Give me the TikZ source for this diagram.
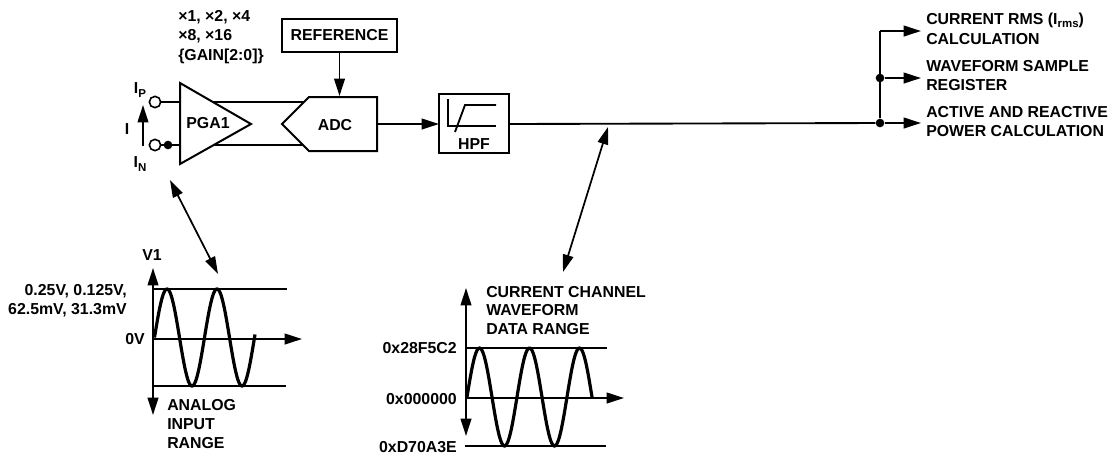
\documentclass[tikz,border=0pt]{standalone}
\usepackage{fontspec}
\setmainfont{Liberation Sans}
\usetikzlibrary{arrows.meta}
\newcommand{\sublbl}[1]{\raisebox{-2.4pt}{\fontsize{8.6pt}{9pt}\selectfont #1}}
\tikzset{
    lbl/.style={font=\fontsize{11.9pt}{13pt}\selectfont\bfseries, inner sep=0pt},
    sig/.style={line width=1.4pt},
    sigarrow/.style={line width=1.4pt, -{Triangle[length=13pt, width=8pt]}},
    bothways/.style={line width=1.3pt, {Triangle[length=13pt, width=8pt]}-{Triangle[length=13pt, width=8pt]}},
    wave/.style={line width=2.4pt, smooth, samples=120},
    level/.style={line width=1pt},
    blockbox/.style={draw, line width=1.5pt, inner sep=0pt},
    terminal/.style={circle, draw, line width=1.2pt, fill=white, minimum size=8.5pt, inner sep=0pt},
    junction/.style={circle, fill=black, minimum size=6.5pt, inner sep=0pt}
}
\begin{document}
\begin{tikzpicture}[x=0.75pt, y=-0.75pt]
    \useasboundingbox (0, 0) rectangle (1109, 455);

    % Gain settings
    \node[lbl, anchor=west] (gaina) at (178, 17) {×1, ×2, ×4};
    \node[lbl, anchor=west] (gainb) at (178, 36) {×8, ×16};
    \node[lbl, anchor=west] (gainc) at (178, 56) {\{GAIN[2:0]\}};

    % Reference and ADC
    \node[blockbox, lbl, minimum width=86pt, minimum height=24.5pt] (reference) at (339.5, 35.5) {REFERENCE};
    \coordinate (adctip) at (282, 124);
    \coordinate (adctl) at (309, 97);
    \coordinate (adctr) at (377, 97);
    \coordinate (adcbr) at (377, 151);
    \coordinate (adcbl) at (309, 151);
    \coordinate (adctop) at (339.5, 96);
    \coordinate (adcout) at (378, 124);

    % PGA
    \coordinate (pgatop) at (180, 83);
    \coordinate (pgabot) at (180, 164);
    \coordinate (pgatip) at (251, 124);

    % Differential lines between PGA and ADC
    \draw[sig] (213, 102) -- (314, 102);
    \draw[sig] (213, 145) -- (314, 145);
    \draw[line width=1.5pt, fill=white] (pgatop) -- (pgatip) -- (pgabot) -- cycle;
    \draw[line width=1.5pt, fill=white] (adctip) -- (adctl) -- (adctr) -- (adcbr) -- (adcbl) -- cycle;
    \node[lbl] (pga) at (208, 123) {PGA1};
    \node[lbl] (adc) at (335, 125) {ADC};

    % Inputs
    \coordinate (pgaip) at (180, 102);
    \coordinate (pgain) at (180, 145);
    \node[terminal] (ip) at (155, 102) {};
    \node[terminal] (in) at (155, 145) {};
    \node[junction] (ground) at (168, 145) {};
    \draw[sig] (ip) -- (pgaip);
    \draw[sig] (in) -- (pgain);
    \node[lbl] (iplabel) at (140, 90) {I\sublbl{P}};
    \node[lbl] (inlabel) at (140, 164) {I\sublbl{N}};
    \node[lbl] (ilabel) at (127, 129) {I};
    \coordinate (ibot) at (143, 146);
    \coordinate (itop) at (143, 105);
    \draw[sigarrow] (ibot) -- (itop);
    \draw[sigarrow] (reference) -- (adctop);

    % HPF
    \node[blockbox, minimum width=52.5pt, minimum height=44.5pt] (hpf) at (474, 123.5) {};
    \coordinate (hpfin) at (439, 124);
    \coordinate (hpfout) at (509, 124);
    \draw[sig] (448, 99) -- (448, 126) -- (496, 126);
    \draw[sig] (455, 132) -- (465, 105) -- (496, 105);
    \node[lbl] (hpflabel) at (474, 144) {HPF};
    \draw[sigarrow] (adcout) -- (hpfin);

    % Outputs
    \node[junction] (split) at (880, 123) {};
    \node[junction] (splitb) at (880, 78) {};
    \coordinate (corner) at (880, 31);
    \coordinate (rmsend) at (921, 31);
    \coordinate (regend) at (921, 78);
    \coordinate (powend) at (921, 123);
    \draw[sig] (hpfout) -- (split);
    \draw[sig] (split) -- (corner);
    \draw[sigarrow] (corner) -- (rmsend);
    \draw[sigarrow] (splitb) -- (regend);
    \draw[sigarrow] (split) -- (powend);
    \node[lbl, anchor=west] (rmsa) at (926, 20) {CURRENT RMS (I\sublbl{rms})};
    \node[lbl, anchor=west] (rmsb) at (926, 39) {CALCULATION};
    \node[lbl, anchor=west] (rega) at (926, 66) {WAVEFORM SAMPLE};
    \node[lbl, anchor=west] (regb) at (926, 85) {REGISTER};
    \node[lbl, anchor=west] (powa) at (926, 112) {ACTIVE AND REACTIVE};
    \node[lbl, anchor=west] (powb) at (926, 131) {POWER CALCULATION};

    % Links to the range plots
    \coordinate (pgalink) at (170, 180);
    \coordinate (rangelink) at (218, 274);
    \coordinate (hpflink) at (608, 127);
    \coordinate (datalink) at (563, 272);
    \draw[bothways] (pgalink) -- (rangelink);
    \draw[bothways] (hpflink) -- (datalink);

    % Analog input range
    \coordinate (atop) at (153, 268);
    \coordinate (abot) at (153, 415);
    \coordinate (azero) at (153, 339);
    \coordinate (aright) at (302, 339);
    \draw[level] (153, 289) -- (287, 289);
    \draw[level] (153, 386) -- (286, 386);
    \draw[sigarrow] (azero) -- (atop);
    \draw[sigarrow] (azero) -- (abot);
    \draw[sigarrow] (azero) -- (aright);
    \draw[wave, domain=154.5:255] plot (\x, {337.5-48.5*sin((\x-154.5)*7.2)});
    \node[lbl] (v1) at (152, 255) {V1};
    \node[lbl, anchor=east] (fsa) at (127, 291) {0.25V, 0.125V,};
    \node[lbl, anchor=east] (fsb) at (127, 310) {62.5mV, 31.3mV};
    \node[lbl, anchor=east] (zerov) at (145, 339) {0V};
    \node[lbl, anchor=west] (ana) at (167, 405) {ANALOG};
    \node[lbl, anchor=west] (anb) at (167, 424) {INPUT};
    \node[lbl, anchor=west] (anc) at (167, 443) {RANGE};

    % Waveform data range
    \coordinate (dtop) at (466, 288);
    \coordinate (dbot) at (466, 436);
    \coordinate (dzero) at (466, 398);
    \coordinate (dright) at (624, 398);
    \draw[level] (466, 348) -- (607, 348);
    \draw[level] (465, 446) -- (606, 446);
    \draw[sigarrow] (dzero) -- (dtop);
    \draw[sigarrow] (dzero) -- (dbot);
    \draw[sigarrow] (dzero) -- (dright);
    \draw[wave, domain=467:592] plot (\x, {397-49*sin((\x-467)*7.2)});
    \node[lbl, anchor=west] (dataa) at (486, 292) {CURRENT CHANNEL};
    \node[lbl, anchor=west] (datab) at (486, 310) {WAVEFORM};
    \node[lbl, anchor=west] (datac) at (486, 329) {DATA RANGE};
    \node[lbl, anchor=east] (codetop) at (457, 348) {0x28F5C2};
    \node[lbl, anchor=east] (codezero) at (457, 399) {0x000000};
    \node[lbl, anchor=east] (codebot) at (457, 447.5) {0xD70A3E};
\end{tikzpicture}
\end{document}
